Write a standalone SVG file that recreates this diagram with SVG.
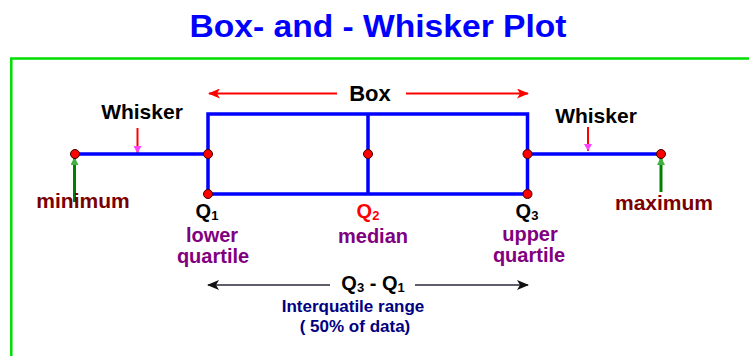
<svg xmlns="http://www.w3.org/2000/svg" width="749" height="356" viewBox="0 0 749 356">
<style>
text{font-family:"Liberation Sans",Arial,sans-serif;font-weight:bold;text-anchor:middle}
.blk{fill:#000}
.lbl{fill:#800080;font-size:20px}
.ext{fill:#7a0000;font-size:21px}
.plot{stroke:#0000ff;stroke-width:3.5;fill:none}
.dot{fill:#ff0000;stroke:#3a0000;stroke-width:1}
.red{stroke:#ff0000;stroke-width:2;fill:none}
.grn{stroke:#008000;stroke-width:3;fill:none}
.iqr{stroke:#2a2a3a;stroke-width:1.5;fill:none}
</style>
<defs>
<marker id="ar" markerWidth="12" markerHeight="10" refX="11" refY="5" orient="auto" markerUnits="userSpaceOnUse"><path d="M0,0 L12,5 L0,10 L3,5 Z" fill="#ff0000"/></marker>
<marker id="am" markerWidth="7" markerHeight="8" refX="7" refY="4" orient="auto" markerUnits="userSpaceOnUse"><path d="M0,0 L7,4 L0,8 Z" fill="#ff40ff"/></marker>
<marker id="ag" markerWidth="8" markerHeight="8" refX="7" refY="4" orient="auto" markerUnits="userSpaceOnUse"><path d="M0,0 L8,4 L0,8 Z" fill="#40b040"/></marker>
<marker id="ak" markerWidth="12" markerHeight="10" refX="11" refY="5" orient="auto" markerUnits="userSpaceOnUse"><path d="M0,0 L12,5 L0,10 L3,5 Z" fill="#111"/></marker>
</defs>
<rect width="749" height="356" fill="#fff"/>
<text x="378" y="37" font-size="31" fill="#0000ff" textLength="377" lengthAdjust="spacingAndGlyphs">Box- and - Whisker Plot</text>
<path d="M11.3,356 V58.5 H749" stroke="#00dd00" stroke-width="2.5" fill="none"/>

<g id="connectors">
<line class="red" x1="337" y1="93.5" x2="209" y2="93.5" marker-end="url(#ar)"/>
<line class="red" x1="406" y1="93.5" x2="528" y2="93.5" marker-end="url(#ar)"/>
<line class="red" x1="137.5" y1="128" x2="137.5" y2="153" marker-end="url(#am)"/>
<line class="red" x1="588" y1="127" x2="588" y2="151" marker-end="url(#am)"/>
<line class="grn" x1="74.5" y1="202" x2="74.5" y2="158" marker-end="url(#ag)"/>
<line class="grn" x1="661" y1="192" x2="661" y2="158" marker-end="url(#ag)"/>
<line class="iqr" x1="330" y1="285" x2="208" y2="285" marker-end="url(#ak)"/>
<line class="iqr" x1="415" y1="285" x2="528" y2="285" marker-end="url(#ak)"/>
</g>

<g id="plot">
<path class="plot" d="M75,154 H208 M208,194 V114 H527.5 V194 H208 M368,114 V194 M527.5,154 H661"/>
</g>

<g id="dots">
<circle class="dot" cx="75" cy="154" r="4.5"/>
<circle class="dot" cx="208" cy="154" r="4.5"/>
<circle class="dot" cx="208" cy="194" r="4.5"/>
<circle class="dot" cx="368" cy="154" r="4.5"/>
<circle class="dot" cx="527.5" cy="154" r="4.5"/>
<circle class="dot" cx="527.5" cy="194" r="4.5"/>
<circle class="dot" cx="661" cy="154" r="4.5"/>
</g>

<g id="box-label"><text x="370" y="101" font-size="22" class="blk">Box</text></g>
<g id="whisker-left"><text x="142" y="119" font-size="21" class="blk">Whisker</text></g>
<g id="whisker-right"><text x="596" y="123" font-size="21" class="blk">Whisker</text></g>
<g id="minimum"><text x="83" y="208" class="ext">minimum</text></g>
<g id="maximum"><text x="664" y="210" class="ext">maximum</text></g>

<g id="q1">
<text x="207" y="218" font-size="20" class="blk">Q<tspan font-size="13" dy="2">1</tspan></text>
<text x="212" y="242" class="lbl">lower</text>
<text x="213" y="263" class="lbl">quartile</text>
</g>
<g id="q2">
<text x="368" y="218" font-size="20" fill="#ff0000">Q<tspan font-size="13" dy="2">2</tspan></text>
<text x="373" y="243" class="lbl">median</text>
</g>
<g id="q3">
<text x="527" y="218" font-size="20" class="blk">Q<tspan font-size="13" dy="2">3</tspan></text>
<text x="530" y="241" class="lbl">upper</text>
<text x="529" y="262" class="lbl">quartile</text>
</g>

<g id="iqr">
<text x="373" y="290" font-size="20" class="blk">Q<tspan font-size="13" dy="2">3</tspan><tspan dy="-2"> - Q</tspan><tspan font-size="13" dy="2">1</tspan></text>
<text x="353" y="312" font-size="17" fill="#000080">Interquatile range</text>
<text x="355" y="332" font-size="17" fill="#000080">( 50% of data)</text>
</g>
</svg>
